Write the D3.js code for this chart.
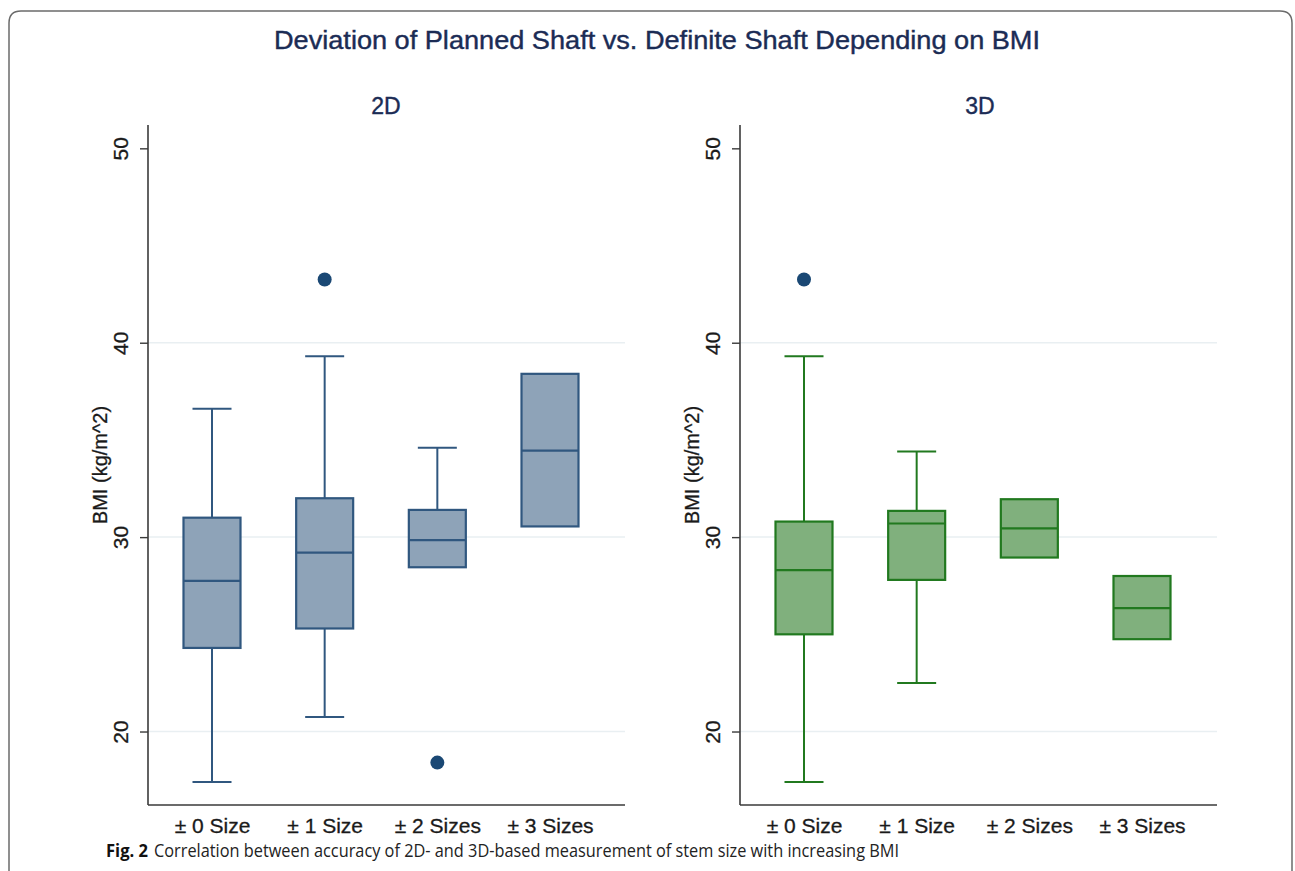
<!DOCTYPE html>
<html lang="en">
<head>
    <meta charset="UTF-8">
    <script src="https://cdnjs.cloudflare.com/ajax/libs/d3/7.8.5/d3.min.js"></script>
    <title>BMI box plots</title>
    <style>
        body { margin: 0; background: #fff; }
        svg { display: block; }
    </style>
</head>
<body>
    <div id="chart"></div>

    <script>
        // Data
        const categories = ["± 0 Size", "± 1 Size", "± 2 Sizes", "± 3 Sizes"];
        const yTicks = [20, 30, 40, 50];
        const gridTicks = [20, 30, 40];

        // 2D panel: [lower whisker, Q1, median, Q3, upper whisker]
        const lo2D  = [17.4, 20.75, null, null];
        const q1_2D = [24.3, 25.3, 28.45, 30.55];
        const md2D  = [27.75, 29.2, 29.85, 34.45];
        const q3_2D = [31.0, 32.0, 31.4, 38.4];
        const hi2D  = [36.6, 39.3, 34.6, null];
        const out2D = [[], [43.25], [18.4], []];

        // 3D panel
        const lo3D  = [17.4, 22.5, null, null];
        const q1_3D = [25.0, 27.8, 28.95, 24.75];
        const md3D  = [28.3, 30.7, 30.45, 26.35];
        const q3_3D = [30.8, 31.35, 31.95, 28.0];
        const hi3D  = [39.3, 34.4, null, null];
        const out3D = [[43.25], [], [], []];

        const FONT = "'Liberation Sans', Arial, Helvetica, sans-serif";
        const CAPTION_FONT = "'Open Sans', 'Noto Sans', sans-serif";

        const width = 1295, height = 871;

        const svg = d3.select("#chart").append("svg")
            .attr("width", width)
            .attr("height", height);

        // frame of the figure
        svg.append("path")
            .attr("d", "M9,890 L9,23 Q9,11 21,11 L1280,11 Q1292,11 1292,23 L1292,890")
            .attr("fill", "none")
            .attr("stroke", "#6b6b6b")
            .attr("stroke-width", 1.5);

        svg.append("text")
            .attr("x", 657).attr("y", 49)
            .attr("text-anchor", "middle")
            .attr("font-family", FONT)
            .attr("font-size", 25)
            .attr("fill", "#1b2c55")
            .attr("stroke", "#1b2c55").attr("stroke-width", 0.4)
            .attr("textLength", 766)
            .attr("lengthAdjust", "spacingAndGlyphs")
            .text("Deviation of Planned Shaft vs. Definite Shaft Depending on BMI");

        const y = d3.scaleLinear().domain([16.22, 51.2]).range([805, 125]);

        function drawPanel(opts) {
            const left = opts.left, right = opts.left + 477;
            const g = svg.append("g");

            const x = d3.scalePoint()
                .domain(categories)
                .range([left + 64, left + 402]);
            const boxW = 57, capW = 39;

            g.append("text")
                .attr("x", opts.titleX).attr("y", 114)
                .attr("text-anchor", "middle")
                .attr("font-family", FONT)
                .attr("font-size", 23)
                .attr("fill", "#1b2c55")
                .attr("stroke", "#1b2c55").attr("stroke-width", 0.4)
                .text(opts.title);

            // grid
            g.selectAll(".grid").data(gridTicks).enter().append("line")
                .attr("x1", left).attr("x2", right)
                .attr("y1", d => y(d)).attr("y2", d => y(d))
                .attr("stroke", "#e9eff2")
                .attr("stroke-width", 1.5);

            // y axis
            const yAxis = g.append("g")
                .attr("transform", `translate(${left},0)`)
                .call(d3.axisLeft(y).tickValues(yTicks).tickSize(8).tickSizeOuter(0));
            yAxis.attr("font-family", FONT);
            yAxis.select(".domain").attr("d", `M0,${y.range()[0]}V${y.range()[1]}`)
                .attr("stroke", "#3a3a3a").attr("stroke-width", 1.6);
            yAxis.selectAll(".tick line").attr("stroke", "#3a3a3a").attr("stroke-width", 1.4);
            yAxis.selectAll(".tick text")
                .attr("font-family", FONT)
                .attr("font-size", 21)
                .attr("fill", "#1a1a1a")
                .attr("stroke", "#1a1a1a").attr("stroke-width", 0.3)
                .attr("transform", "rotate(-90)")
                .attr("x", 0).attr("y", -20)
                .attr("dy", "0")
                .attr("text-anchor", "middle");

            g.append("text")
                .attr("transform", `translate(${left - 41},465) rotate(-90)`)
                .attr("text-anchor", "middle")
                .attr("font-family", FONT)
                .attr("font-size", 20)
                .attr("fill", "#1a1a1a")
                .attr("stroke", "#1a1a1a").attr("stroke-width", 0.3)
                .text("BMI (kg/m^2)");

            // x axis
            const xAxis = g.append("g")
                .attr("transform", `translate(0,${y.range()[0]})`)
                .call(d3.axisBottom(x).tickSize(0).tickSizeOuter(0));
            xAxis.attr("font-family", FONT);
            xAxis.select(".domain").attr("d", `M${left},0H${right}`)
                .attr("stroke", "#3a3a3a").attr("stroke-width", 1.6);
            xAxis.selectAll(".tick text")
                .attr("font-family", FONT)
                .attr("font-size", 21)
                .attr("fill", "#1a1a1a")
                .attr("stroke", "#1a1a1a").attr("stroke-width", 0.3)
                .attr("dy", 0)
                .attr("y", 28);

            const rows = categories.map((c, i) => ({
                c, lo: opts.lo[i], q1: opts.q1[i], md: opts.md[i],
                q3: opts.q3[i], hi: opts.hi[i], out: opts.out[i]
            }));

            const box = g.selectAll(".box").data(rows).enter().append("g");

            // whiskers
            box.filter(d => d.hi != null).append("line")
                .attr("x1", d => x(d.c)).attr("x2", d => x(d.c))
                .attr("y1", d => y(d.q3)).attr("y2", d => y(d.hi))
                .attr("stroke", opts.stroke).attr("stroke-width", 2);
            box.filter(d => d.hi != null).append("line")
                .attr("x1", d => x(d.c) - capW / 2).attr("x2", d => x(d.c) + capW / 2)
                .attr("y1", d => y(d.hi)).attr("y2", d => y(d.hi))
                .attr("stroke", opts.stroke).attr("stroke-width", 2);
            box.filter(d => d.lo != null).append("line")
                .attr("x1", d => x(d.c)).attr("x2", d => x(d.c))
                .attr("y1", d => y(d.q1)).attr("y2", d => y(d.lo))
                .attr("stroke", opts.stroke).attr("stroke-width", 2);
            box.filter(d => d.lo != null).append("line")
                .attr("x1", d => x(d.c) - capW / 2).attr("x2", d => x(d.c) + capW / 2)
                .attr("y1", d => y(d.lo)).attr("y2", d => y(d.lo))
                .attr("stroke", opts.stroke).attr("stroke-width", 2);

            // boxes
            box.append("rect")
                .attr("x", d => x(d.c) - boxW / 2)
                .attr("width", boxW)
                .attr("y", d => y(d.q3))
                .attr("height", d => y(d.q1) - y(d.q3))
                .attr("fill", opts.fill)
                .attr("stroke", opts.stroke)
                .attr("stroke-width", 2.2);
            box.append("line")
                .attr("x1", d => x(d.c) - boxW / 2).attr("x2", d => x(d.c) + boxW / 2)
                .attr("y1", d => y(d.md)).attr("y2", d => y(d.md))
                .attr("stroke", opts.stroke).attr("stroke-width", 2.2);

            // outliers
            box.selectAll("circle").data(d => d.out.map(v => ({ c: d.c, v }))).enter()
                .append("circle")
                .attr("cx", d => x(d.c))
                .attr("cy", d => y(d.v))
                .attr("r", 7)
                .attr("fill", "#1a4874");
        }

        drawPanel({
            left: 148, titleX: 386, title: "2D",
            lo: lo2D, q1: q1_2D, md: md2D, q3: q3_2D, hi: hi2D, out: out2D,
            fill: "#8ea3b8", stroke: "#30577f"
        });

        drawPanel({
            left: 740, titleX: 980, title: "3D",
            lo: lo3D, q1: q1_3D, md: md3D, q3: q3_3D, hi: hi3D, out: out3D,
            fill: "#80b07d", stroke: "#21791f"
        });

        // caption
        svg.append("text")
            .attr("x", 106).attr("y", 857)
            .attr("font-family", CAPTION_FONT)
            .attr("font-weight", "bold")
            .attr("font-size", 17.5)
            .attr("fill", "#111")
            .attr("textLength", 42)
            .attr("lengthAdjust", "spacingAndGlyphs")
            .text("Fig. 2");
        svg.append("text")
            .attr("x", 154).attr("y", 857)
            .attr("font-family", CAPTION_FONT)
            .attr("font-size", 18.5)
            .attr("fill", "#222")
            .attr("textLength", 745)
            .attr("lengthAdjust", "spacingAndGlyphs")
            .text("Correlation between accuracy of 2D- and 3D-based measurement of stem size with increasing BMI");
    </script>
</body>
</html>
